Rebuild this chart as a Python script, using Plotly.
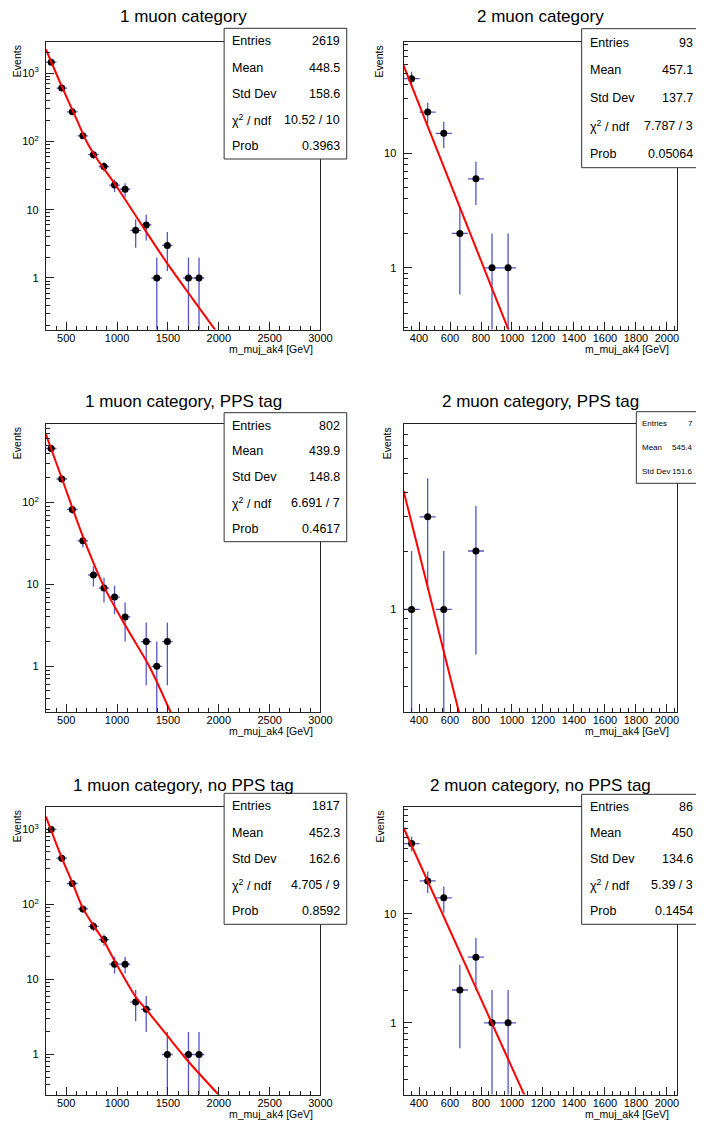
import numpy as np
import plotly.graph_objects as go
from plotly.subplots import make_subplots

W, H = 708, 1124
FONT = "Liberation Sans, Arial, sans-serif"
ERR = "rgb(85,85,200)"

# all six histograms share the same binning: 26 bins from 300 to 3000 GeV
BIN_LO, BIN_HI, N_BINS = 300.0, 3000.0, 26

titles = ["1 muon category", "2 muon category",
          "1 muon category, PPS tag", "2 muon category, PPS tag",
          "1 muon category, no PPS tag", "2 muon category, no PPS tag"]

# bin contents starting with the first bin
counts_1mu = [1453, 606, 272, 121, 64, 43, 23, 20, 5, 6, 1, 3, 0, 1, 1]
counts_2mu = [45, 23, 15, 2, 6, 1, 1]
counts_1mu_pps = [455, 193, 82, 34, 13, 9, 7, 4, 0, 2, 1, 2]
counts_2mu_pps = [1, 3, 1, 0, 2]
counts_1mu_nopps = [998, 413, 190, 87, 51, 34, 16, 16, 5, 4, 0, 1, 0, 1, 1]
counts_2mu_nopps = [44, 20, 14, 2, 4, 1, 1]

# fitted curves (red)
fit_x_1mu = [300, 400, 500, 600, 700, 800, 900, 1000, 1250, 1500, 1750, 1975]
fit_y_1mu = [2239, 1000, 457, 214, 100, 56.2, 34.7, 21.4, 5.75, 1.58, 0.479, 0.165]
fit_x_2mu = [300, 985]
fit_y_2mu = [58.9, 0.27]
fit_x_1mu_pps = [300, 458, 665, 872, 1080, 1316, 1535]
fit_y_1mu_pps = [678, 194.5, 38.0, 9.31, 3.16, 1.0, 0.26]
fit_x_2mu_pps = [300, 665]
fit_y_2mu_pps = [4.09, 0.28]
fit_x_1mu_nopps = [300, 456, 560, 663, 767, 871, 975, 1182, 1286, 1494, 1705, 2010]
fit_y_1mu_nopps = [1479, 417, 195, 89.1, 52.5, 32.4, 17.8, 5.89, 3.98, 1.78, 0.794, 0.28]
fit_x_2mu_nopps = [300, 1085]
fit_y_2mu_nopps = [61.5, 0.21]

# statistics boxes
stat_names = ["Entries", "Mean", "Std Dev", "χ<sup>2</sup> / ndf", "Prob"]
stats_1mu = ["2619", "448.5", "158.6", "10.52 / 10", "0.3963"]
stats_2mu = ["93", "457.1", "137.7", "7.787 / 3", "0.05064"]
stats_1mu_pps = ["802", "439.9", "148.8", "6.691 / 7", "0.4617"]
stats_2mu_pps = ["7", "545.4", "151.6"]
stats_1mu_nopps = ["1817", "452.3", "162.6", "4.705 / 9", "0.8592"]
stats_2mu_nopps = ["86", "450", "134.6", "5.39 / 3", "0.1454"]


def px(x):
    return x / W


def py(y):
    return 1 - y / H


edges = np.linspace(BIN_LO, BIN_HI, N_BINS + 1)
centres = 0.5 * (edges[:-1] + edges[1:])
half_w = 0.5 * (edges[1] - edges[0])

# frame geometry in pixels
col_x = [(46.7, 326.0), (410.5, 688.7)]
row_y = [(42.0, 329.5), (424.0, 712.0), (807.0, 1094.5)]
title_y = [17.0, 401.7, 785.0]
events_x = [17.5, 386.0, 17.5, 394.0, 17.5, 387.0]

# box = (left, top, right, bottom); the right-hand boxes are cut by the canvas edge
panels = [
    dict(counts=counts_1mu, fx=fit_x_1mu, fy=fit_y_1mu, stats=stats_1mu,
         yr=[-0.755, 3.458], box=(228, 28.3, 352.7, 159.0), fs=12.5),
    dict(counts=counts_2mu, fx=fit_x_2mu, fy=fit_y_2mu, stats=stats_2mu,
         yr=[-0.539, 1.974], box=(591.7, 28.7, W, 167.7), fs=12.5),
    dict(counts=counts_1mu_pps, fx=fit_x_1mu_pps, fy=fit_y_1mu_pps, stats=stats_1mu_pps,
         yr=[-0.558, 2.957], box=(228, 412.7, 352.7, 541.7), fs=12.5),
    dict(counts=counts_2mu_pps, fx=fit_x_2mu_pps, fy=fit_y_2mu_pps, stats=stats_2mu_pps,
         yr=[-0.528, 0.955], box=(647.3, 411.7, W, 483.3), fs=8),
    dict(counts=counts_1mu_nopps, fx=fit_x_1mu_nopps, fy=fit_y_1mu_nopps, stats=stats_1mu_nopps,
         yr=[-0.533, 3.298], box=(228, 793.3, 352.7, 924.3), fs=12.5),
    dict(counts=counts_2mu_nopps, fx=fit_x_2mu_nopps, fy=fit_y_2mu_nopps, stats=stats_2mu_nopps,
         yr=[-0.657, 1.979], box=(591.7, 794.3, W, 924.3), fs=12.5),
]

major_y = [1, 10, 100, 1000]
major_y_text = ["1", "10", "10<sup>2</sup>", "10<sup>3</sup>"]
minor_y = [k * 10.0 ** e for e in range(-1, 4) for k in range(2, 10)]

fig = make_subplots(rows=3, cols=2)
annotations = []
shapes = []

for i, p in enumerate(panels):
    r, c = divmod(i, 2)
    n = np.array(p["counts"], dtype=float)
    x = centres[:len(n)]
    keep = n > 0

    fig.add_trace(go.Scatter(
        x=x[keep], y=n[keep], mode="markers",
        marker=dict(color="black", size=7),
        error_y=dict(type="data", array=np.sqrt(n[keep]), color=ERR, thickness=1.3, width=0),
        error_x=dict(type="constant", value=half_w, color=ERR, thickness=1.3, width=0),
        showlegend=False, cliponaxis=True,
    ), row=r + 1, col=c + 1)
    fig.add_trace(go.Scatter(
        x=p["fx"], y=p["fy"], mode="lines",
        line=dict(color="#ff0000", width=2, shape="spline", smoothing=0.8),
        showlegend=False,
    ), row=r + 1, col=c + 1)

    x0, x1 = col_x[c]
    ytop, ybot = row_y[r]
    if c == 0:
        xr, xt, xminor = [BIN_LO, BIN_HI], 500, 100
    else:
        xr, xt, xminor = [BIN_LO, edges[17]], 200, 50

    fig.update_xaxes(
        row=r + 1, col=c + 1, domain=[px(x0), px(x1)], range=xr,
        showgrid=False, zeroline=False, showline=True, mirror=True,
        linecolor="#222", linewidth=1,
        ticks="inside", ticklen=8, tickcolor="#222", dtick=xt, tick0=0,
        minor=dict(ticks="inside", ticklen=4, dtick=xminor, tick0=0, tickcolor="#222"),
        tickfont=dict(family=FONT, size=11, color="black"),
        ticklabelstandoff=-2,
    )
    fig.update_yaxes(
        row=r + 1, col=c + 1, domain=[py(ybot), py(ytop)], type="log", range=p["yr"],
        showgrid=False, zeroline=False, showline=True, mirror=True,
        linecolor="#222", linewidth=1,
        ticks="inside", ticklen=8, tickcolor="#222",
        tickmode="array", tickvals=major_y, ticktext=major_y_text,
        minor=dict(ticks="inside", ticklen=4, tickmode="array", tickvals=minor_y, tickcolor="#222"),
        tickfont=dict(family=FONT, size=11, color="black"),
        ticklabelstandoff=4,
    )

    # title
    annotations.append(dict(
        text=titles[i], x=px((x0 + x1) / 2), y=py(title_y[r]), xref="paper", yref="paper",
        xanchor="center", yanchor="middle", showarrow=False,
        font=dict(family=FONT, size=17, color="black")))
    # axis titles
    annotations.append(dict(
        text="Events", x=px(events_x[i]), y=py(ytop + 1), xref="paper", yref="paper",
        xanchor="center", yanchor="top", textangle=-90, showarrow=False,
        font=dict(family=FONT, size=10.5, color="black")))
    annotations.append(dict(
        text="m_muj_ak4 [GeV]", x=px(x1 - 6), y=py(ybot + 19.5), xref="paper", yref="paper",
        xanchor="right", yanchor="middle", showarrow=False,
        font=dict(family=FONT, size=10.5, color="black")))

    # statistics box
    bx0, by0, bx1, by1 = p["box"]
    cut = bx1 >= W
    shapes.append(dict(type="rect", xref="paper", yref="paper",
                       x0=px(bx0), x1=px(bx1), y0=py(by1), y1=py(by0),
                       line=dict(width=0) if cut else dict(color="#333", width=1),
                       fillcolor="white", layer="above"))
    if cut:
        # only top, left and bottom edges are inside the canvas
        shapes.append(dict(
            type="path", xref="paper", yref="paper", layer="above",
            path=(f"M {px(bx1)} {py(by0)} L {px(bx0)} {py(by0)} "
                  f"L {px(bx0)} {py(by1)} L {px(bx1)} {py(by1)}"),
            line=dict(color="#333", width=1)))
    nrow = len(p["stats"])
    rh = (by1 - by0) / nrow
    pad = 6.3 if p["fs"] > 10 else 4
    val_x = W - 2 if cut else bx1 - pad
    for k, val in enumerate(p["stats"]):
        yc = by0 + (k + 0.5) * rh
        annotations.append(dict(
            text=stat_names[k], x=px(bx0 + pad), y=py(yc), xref="paper", yref="paper",
            xanchor="left", yanchor="middle", showarrow=False,
            font=dict(family=FONT, size=p["fs"], color="black")))
        annotations.append(dict(
            text=val, x=px(val_x), y=py(yc), xref="paper", yref="paper",
            xanchor="right", yanchor="middle", showarrow=False, borderpad=0,
            font=dict(family=FONT, size=p["fs"], color="black")))

fig.update_layout(
    width=W, height=H, autosize=False, margin=dict(l=0, r=0, t=0, b=0),
    paper_bgcolor="white", plot_bgcolor="white",
    annotations=annotations, shapes=shapes, showlegend=False,
)

# no body margin so the figure sits at the page corner
page_css = """
var s = document.createElement('style');
s.innerHTML = 'html, body {margin:0; padding:0; overflow:hidden;}';
document.head.appendChild(s);
"""
fig.write_html("out.html", post_script=page_css,
               config={"displayModeBar": False, "responsive": False})
